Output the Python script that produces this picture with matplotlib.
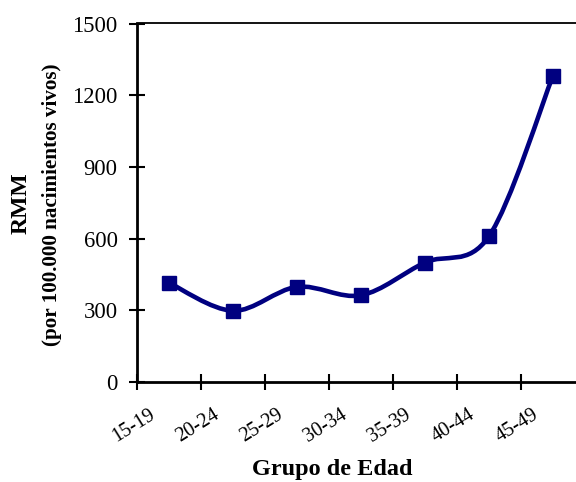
import numpy as np
import matplotlib
matplotlib.use("Agg")
import matplotlib.pyplot as plt
from matplotlib.path import Path
from matplotlib.patches import PathPatch
from matplotlib.transforms import offset_copy

# Razón de mortalidad materna por grupo de edad
grupos = ["15-19", "20-24", "25-29", "30-34", "35-39", "40-44", "45-49"]
rmm = [415, 298, 398, 363, 500, 610, 1282]
yticks = [0, 300, 600, 900, 1200, 1500]

color = "#000080"
plt.rcParams["font.family"] = ["Liberation Serif", "DejaVu Serif"]

fig = plt.figure(figsize=(5.76, 4.82), dpi=100)
ax = fig.add_axes([137 / 576, 1 - 382 / 482, (585 - 137) / 576, (382 - 23.5) / 482])

x = np.arange(len(rmm), dtype=float)
y = np.array(rmm, dtype=float)

# Curva suavizada (Bezier tipo Catmull-Rom entre puntos consecutivos)
verts = [(x[0], y[0])]
codes = [Path.MOVETO]
n = len(x)
for i in range(n - 1):
    p0 = np.array([x[max(i - 1, 0)], y[max(i - 1, 0)]])
    p1 = np.array([x[i], y[i]])
    p2 = np.array([x[i + 1], y[i + 1]])
    p3 = np.array([x[min(i + 2, n - 1)], y[min(i + 2, n - 1)]])
    c1 = p1 + (p2 - p0) / 6
    c2 = p2 - (p3 - p1) / 6
    verts += [tuple(c1), tuple(c2), tuple(p2)]
    codes += [Path.CURVE4] * 3
ax.add_patch(PathPatch(Path(verts, codes), facecolor="none", edgecolor=color,
                       lw=3.3, capstyle="round", joinstyle="round", zorder=2))
ax.plot(x, y, linestyle="none", marker="s", markersize=9.5, color=color, zorder=3)

ax.set_xlim(-0.5, len(grupos) - 0.5)
ax.set_ylim(0, 1500)
ax.set_yticks(yticks)
ax.set_yticklabels([str(v) for v in yticks], fontsize=16.3)
ax.set_xticks(np.arange(len(grupos) + 1) - 0.5)
ax.set_xticklabels([])

ax.tick_params(axis="both", direction="inout", length=11, width=1.5, color="black")
ax.tick_params(axis="y", pad=8.5)
for side in ("left", "bottom"):
    ax.spines[side].set_linewidth(2)
ax.spines["top"].set_linewidth(1.3)
ax.spines["right"].set_visible(False)

# Etiquetas de categoría inclinadas
for i, g in enumerate(grupos):
    tr = offset_copy(ax.get_xaxis_transform(), fig=fig, x=-2.5, y=-31.5, units="points")
    ax.text(i - 0.5, 0, g, transform=tr, rotation=32, ha="center", va="center",
            fontsize=14.5, clip_on=False)

fig.text(332 / 576, 1 - 470 / 482, "Grupo de Edad", ha="center", va="center",
         fontsize=17.5, fontweight="bold")
fig.text(21 / 576, 1 - 203 / 482, "RMM", ha="center", va="center", rotation=90,
         fontsize=17, fontweight="bold")
fig.text(52 / 576, 1 - 205 / 482, "(por 100.000 nacimientos vivos)", ha="center",
         va="center", rotation=90, fontsize=15.2, fontweight="bold")

fig.savefig("out.png", dpi=100)
